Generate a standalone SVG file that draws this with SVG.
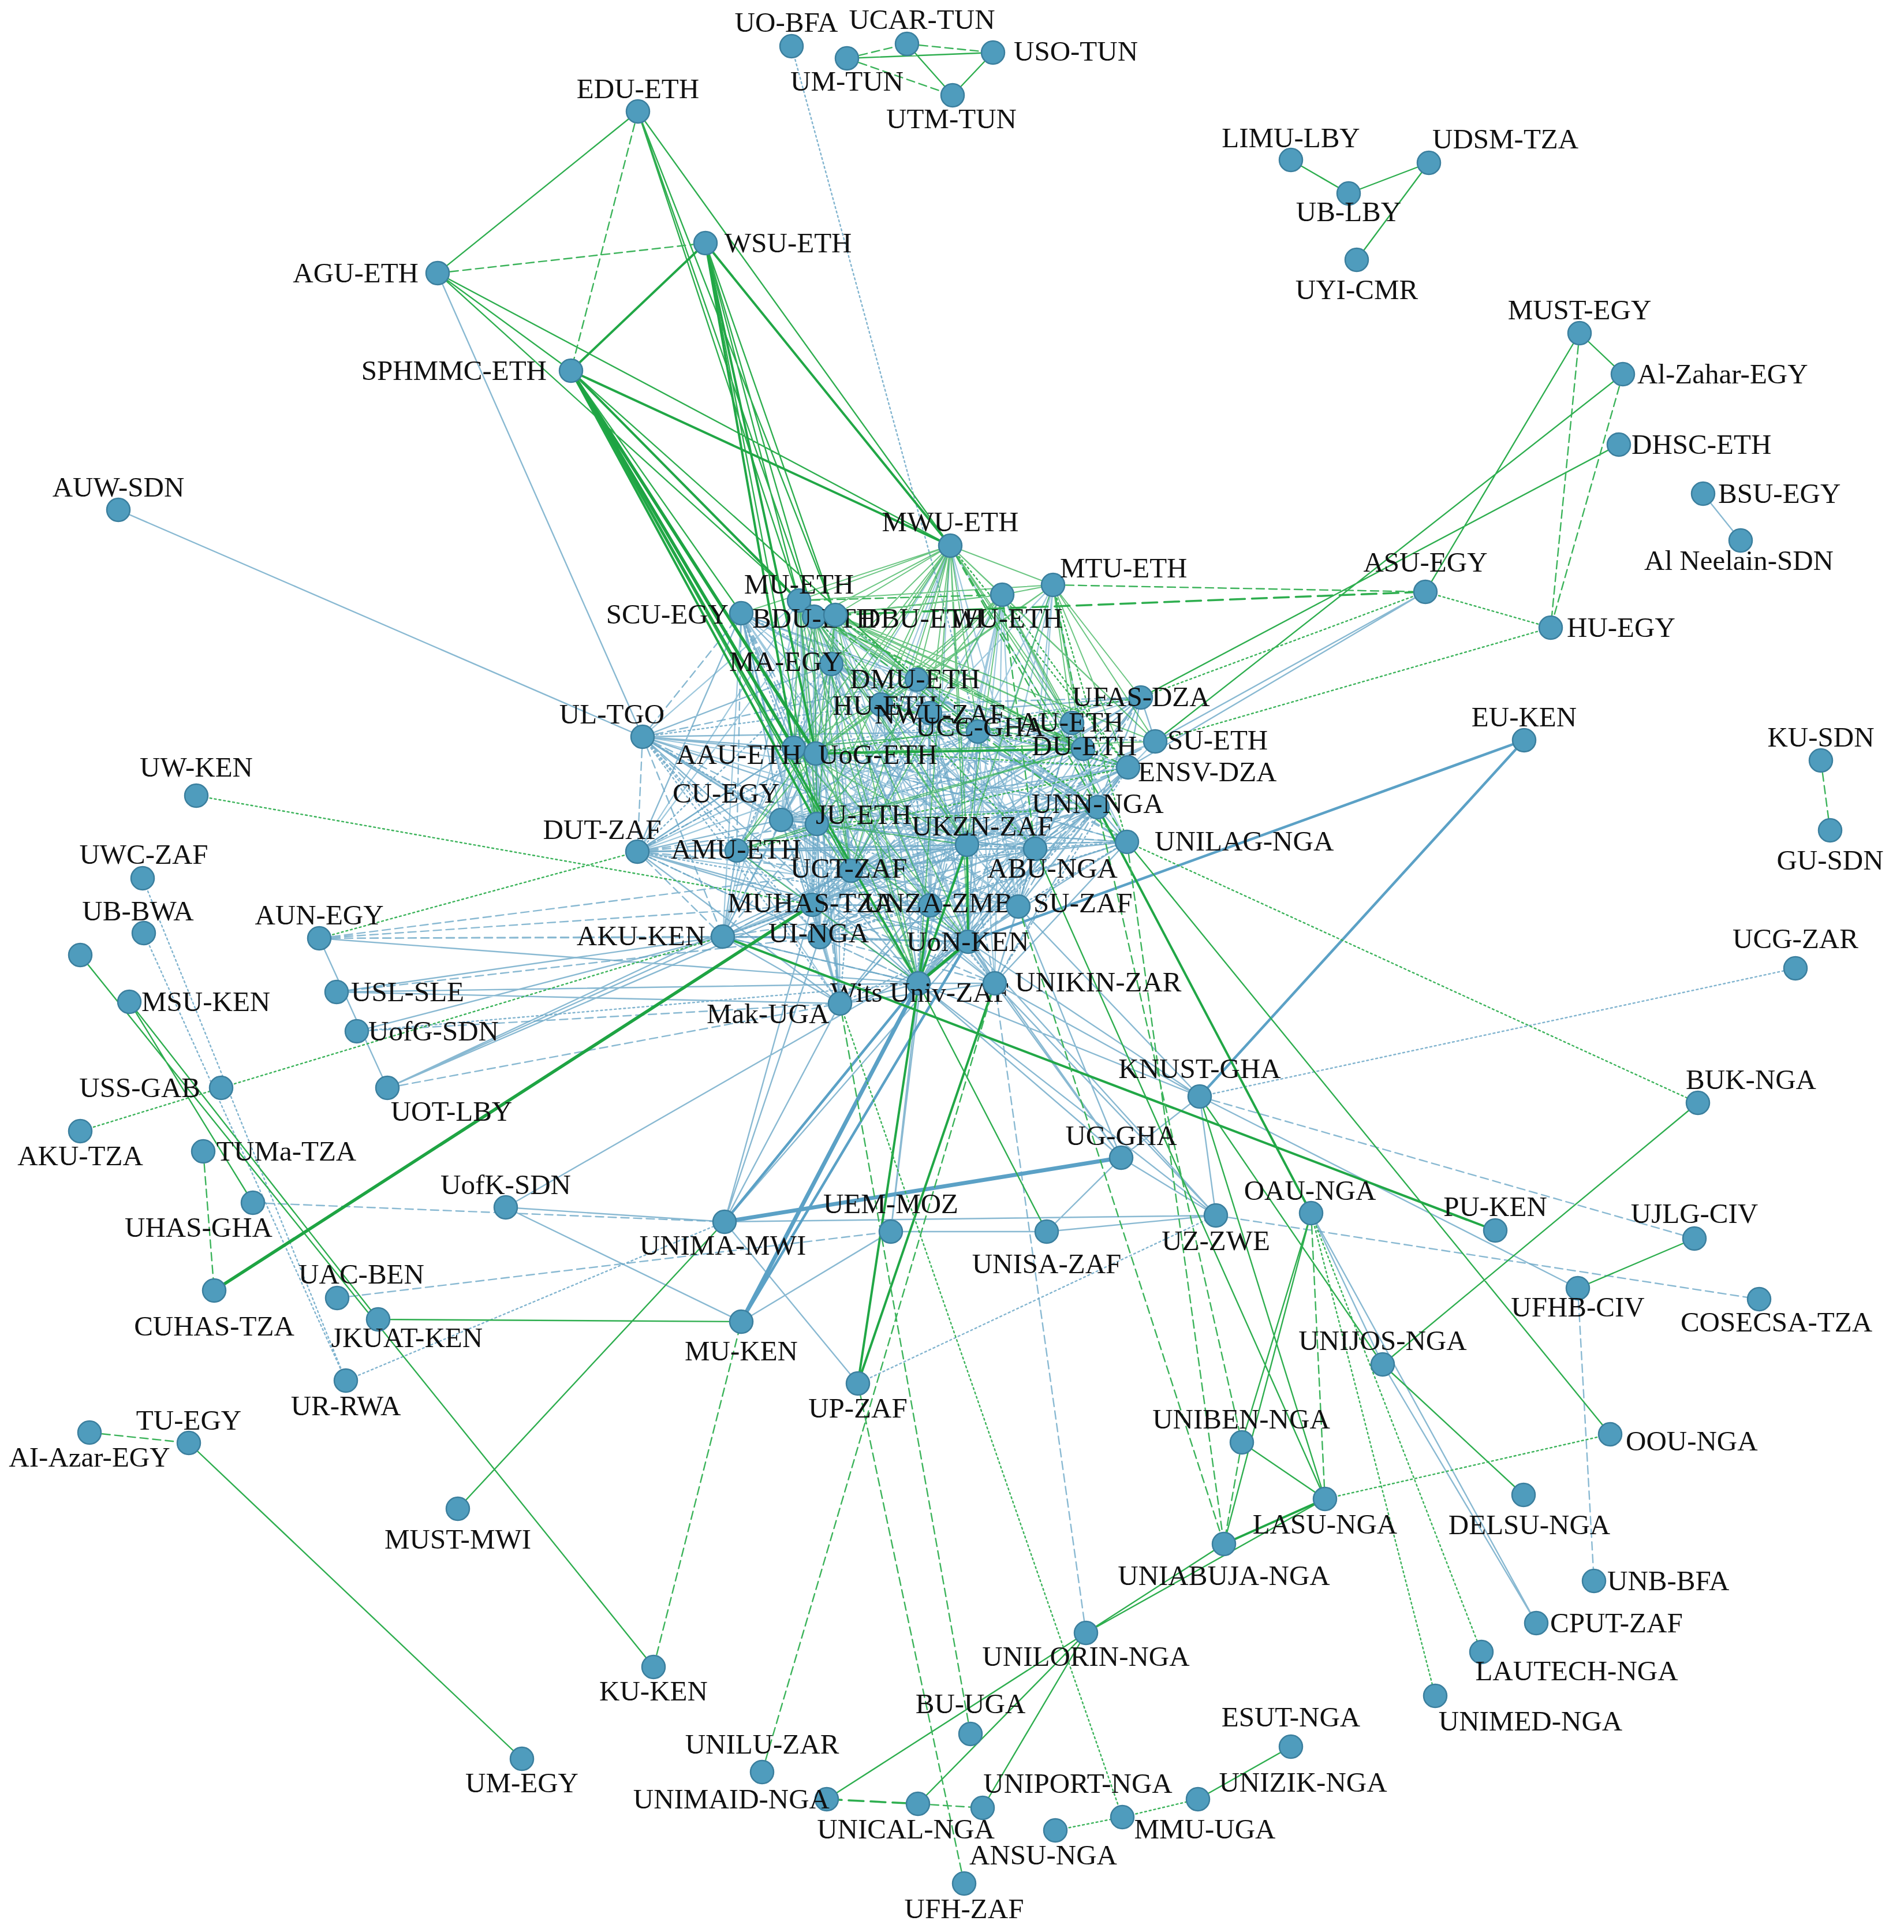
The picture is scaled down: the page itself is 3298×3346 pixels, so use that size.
<svg xmlns="http://www.w3.org/2000/svg" width="3298" height="3346" viewBox="0 0 3298 3346">
<style>
.e path{fill:none;stroke-linecap:round}
.b{stroke:#6ba7c7;stroke-width:2.4;stroke-opacity:.8}
.bl{stroke:#7db5d2;stroke-width:2.2;stroke-opacity:.75}
.bd{stroke:#6ba7c7;stroke-width:2.4;stroke-opacity:.8;stroke-dasharray:14 8}
.bo{stroke:#6ba7c7;stroke-width:2.4;stroke-opacity:.85;stroke-dasharray:3 5}
.bm{stroke:#5ba1c6;stroke-width:4.5}
.bt{stroke:#5ba1c6;stroke-width:7}
.g{stroke:#2eae4f;stroke-width:2.4}
.gc{stroke:#2eae4f;stroke-width:2;stroke-opacity:.7}
.gm{stroke:#21a746;stroke-width:4}
.gt{stroke:#1ea443;stroke-width:5.5}
.gd{stroke:#3bb35a;stroke-width:2.4;stroke-dasharray:14 8}
.gdt{stroke:#2eae4f;stroke-width:3.5;stroke-dasharray:26 12}
.go{stroke:#3bb35a;stroke-width:2.4;stroke-dasharray:3 5}
.n{fill:#4f9cbd;stroke:#3b7f9e;stroke-width:2.5}
text{font-family:"Liberation Serif","Times New Roman",serif;font-size:49px;fill:#111}
.m{text-anchor:middle}.s{text-anchor:start}.r{text-anchor:end}
</style>
<rect width="3298" height="3346" fill="#fff"/>
<g id="connectors" class="e">
<path class="bl" d="M1384 1040L1353 1420M1384 1040L1407 1567M1384 1040L1420 1623M1384 1040L1252 1622M1384 1040L1455 1738M1384 1040L1901 1398M1384 1040L1793 1470M1384 1040L1104 1475M1384 1040L1113 1276M1410 1068L1353 1420M1410 1068L1407 1567M1410 1068L1420 1623M1410 1068L1252 1622M1410 1068L1455 1738M1410 1068L1901 1398M1410 1068L1611 1568M1410 1068L1764 1570M1410 1068L1723 1703M1410 1068L1104 1475M1447 1065L1353 1420M1447 1065L1474 1508M1447 1065L1407 1567M1447 1065L1420 1623M1447 1065L1677 1631M1447 1065L1611 1568M1447 1065L1793 1470M1447 1065L1952 1458M1447 1065L1455 1738M1736 1030L1591 1703M1736 1030L1677 1631M1736 1030L1611 1568M1736 1030L1764 1570M1736 1030L1901 1398M1736 1030L1952 1458M1736 1030L1723 1703M1736 1030L1407 1567M1736 1030L1420 1623M1736 1030L1694 1267M1824 1013L1591 1703M1824 1013L1677 1631M1824 1013L1901 1398M1824 1013L1793 1470M1824 1013L1764 1570M1824 1013L1694 1267M1824 1013L1611 1235M1646 945L1793 1470M1646 945L1764 1570M1646 945L1611 1568M1646 945L1407 1567M1646 945L1420 1623M1646 945L1353 1420M1646 945L1952 1458M1284 1062L1793 1470M1284 1062L1677 1631M1284 1062L1611 1568M1284 1062L1252 1622M1284 1062L1455 1738M1284 1062L1954 1329M1284 1062L1876 1297M1375 1295L1420 1623M1375 1295L1407 1567M1375 1295L1252 1622M1375 1295L1677 1631M1375 1295L1793 1470M1375 1295L1764 1570M1375 1295L1952 1458M1375 1295L1694 1267M1375 1295L1104 1475M1375 1295L1276 1473M1413 1305L1474 1508M1413 1305L1675 1463M1413 1305L1611 1568M1413 1305L1764 1570M1413 1305L1901 1398M1413 1305L1793 1470M1413 1305L1723 1703M1413 1305L1694 1267M1413 1305L1353 1420M1415 1427L1474 1508M1415 1427L1611 1568M1415 1427L1764 1570M1415 1427L1723 1703M1415 1427L1952 1458M1415 1427L1954 1329M1415 1427L1694 1267M1415 1427L1857 1252M1276 1473L1474 1508M1276 1473L1407 1567M1276 1473L1420 1623M1276 1473L1675 1463M1276 1473L1677 1631M1276 1473L1793 1470M1276 1473L1455 1738M1276 1473L1375 1295M1526 1220L1474 1508M1526 1220L1677 1631M1526 1220L1611 1568M1526 1220L1793 1470M1526 1220L1420 1623M1588 1177L1474 1508M1588 1177L1611 1568M1588 1177L1793 1470M1588 1177L1677 1631M1611 1235L1677 1631M1611 1235L1764 1570M1611 1235L1793 1470M1694 1267L1677 1631M1694 1267L1764 1570M1694 1267L1723 1703M1857 1252L1677 1631M1857 1252L1793 1470M1857 1252L1474 1508M1857 1252L1420 1623M1876 1297L1591 1703M1876 1297L1764 1570M1876 1297L1474 1508M1876 1297L1353 1420M2001 1284L1591 1703M2001 1284L1474 1508M2001 1284L1407 1567M1954 1329L1677 1631M1954 1329L1407 1567M1954 1329L1252 1622M1976 1208L1407 1567M1976 1208L1677 1631M1976 1208L1353 1420M1113 1276L1901 1398M1113 1276L1793 1470M1113 1276L1677 1631M1104 1475L1764 1570M1104 1475L1952 1458M1104 1475L1694 1267M1104 1475L1611 1235"/>
<path class="b" d="M1113 1276L1375 1295M1113 1276L1413 1305M1113 1276L1353 1420M1113 1276L1440 1150M1113 1276L1474 1508M1113 1276L1675 1463M1113 1276L1591 1703M1113 1276L1694 1267M1104 1475L1375 1295M1104 1475L1353 1420M1104 1475L1276 1473M1104 1475L1407 1567M1104 1475L1675 1463M1104 1475L1677 1631M1104 1475L1455 1738M1104 1475L1793 1470M1104 1475L1284 1062M1284 1062L1375 1295M1284 1062L1353 1420M1284 1062L1440 1150M1284 1062L1675 1463M1284 1062L1588 1177M1284 1062L1901 1398M1284 1062L1407 1567M1440 1150L1375 1295M1440 1150L1353 1420M1440 1150L1474 1508M1440 1150L1694 1267M1440 1150L1793 1470M1440 1150L1876 1297M1440 1150L1611 1568M1353 1420L1415 1427M1353 1420L1474 1508M1353 1420L1420 1623M1353 1420L1591 1703M1353 1420L1901 1398M1353 1420L1793 1470M1353 1420L1611 1568M1353 1420L1611 1235M1353 1420L1954 1329M1474 1508L1675 1463M1474 1508L1677 1631M1474 1508L1764 1570M1474 1508L1952 1458M1474 1508L1252 1622M1474 1508L1407 1567M1474 1508L1611 1235M1474 1508L1976 1208M1474 1508L1723 1703M1407 1567L1675 1463M1407 1567L1591 1703M1407 1567L1611 1568M1407 1567L1793 1470M1407 1567L1420 1623M1407 1567L1455 1738M1407 1567L1694 1267M1407 1567L1857 1252M1420 1623L1675 1463M1420 1623L1677 1631M1420 1623L1764 1570M1420 1623L1901 1398M1420 1623L1455 1738M1420 1623L1252 1622M1420 1623L1611 1235M1420 1623L1413 1305M1675 1463L1677 1631M1675 1463L1764 1570M1675 1463L1901 1398M1675 1463L1954 1329M1675 1463L1976 1208M1675 1463L1611 1235M1675 1463L1588 1177M1675 1463L1455 1738M1675 1463L1252 1622M1611 1568L1677 1631M1611 1568L1793 1470M1611 1568L1952 1458M1611 1568L1455 1738M1611 1568L1611 1235M1764 1570L1591 1703M1764 1570L1723 1703M1764 1570L1901 1398M1764 1570L1954 1329M1677 1631L1723 1703M1677 1631L1793 1470M1677 1631L1952 1458M1677 1631L1252 1622M1677 1631L1694 1267M1591 1703L1723 1703M1591 1703L1793 1470M1591 1703L1455 1738M1591 1703L1252 1622M1591 1703L1611 1235M1591 1703L1526 1220M1591 1703L1976 1208M1723 1703L1793 1470M1723 1703L1952 1458M1793 1470L1901 1398M1793 1470L1954 1329M1793 1470L1694 1267M1793 1470L1857 1252M1901 1398L1952 1458M1901 1398L1976 1208M1901 1398L1611 1235M1694 1267L1611 1235M1694 1267L1954 1329M1694 1267L1588 1177M1611 1235L1976 1208M1611 1235L1526 1220M1976 1208L1954 1329M1976 1208L2001 1284M1252 1622L1413 1305M1252 1622L1276 1473M1252 1622L1455 1738M1252 1622L1407 1567M1252 1622L1675 1463M1455 1738L1413 1305M1455 1738L1675 1463M1455 1738L1723 1703"/>
<path class="bd" d="M1113 1276L1415 1427M1113 1276L1284 1062M1113 1276L1407 1567M1113 1276L1104 1475M1113 1276L1588 1177M1113 1276L1252 1622M1104 1475L1413 1305M1104 1475L1415 1427M1104 1475L1474 1508M1104 1475L1591 1703M1104 1475L1252 1622M1104 1475L1901 1398M1284 1062L1413 1305M1284 1062L1474 1508M1284 1062L1591 1703M1284 1062L1276 1473M1440 1150L1413 1305M1440 1150L1675 1463M1440 1150L1901 1398M1440 1150L1952 1458M1353 1420L1276 1473M1353 1420L1675 1463M1353 1420L1952 1458M1353 1420L1694 1267M1474 1508L1591 1703M1474 1508L1901 1398M1474 1508L1420 1623M1474 1508L1954 1329M1407 1567L1677 1631M1407 1567L1901 1398M1407 1567L1723 1703M1407 1567L1588 1177M1420 1623L1591 1703M1420 1623L1793 1470M1420 1623L1723 1703M1420 1623L1694 1267M1675 1463L1952 1458M1675 1463L2001 1284M1675 1463L1694 1267M1675 1463L1723 1703M1611 1568L1764 1570M1611 1568L1901 1398M1611 1568L1694 1267M1764 1570L1677 1631M1764 1570L1793 1470M1764 1570L1976 1208M1591 1703L1901 1398M1591 1703L1694 1267M1591 1703L1857 1252M1591 1703L1954 1329M1723 1703L1901 1398M1793 1470L1976 1208M1793 1470L1611 1235M1901 1398L1954 1329M1901 1398L1694 1267M1694 1267L1976 1208M1694 1267L1526 1220M1694 1267L1857 1252M1611 1235L1954 1329M1611 1235L1588 1177M1976 1208L1526 1220M1252 1622L1415 1427M1252 1622L1353 1420M1252 1622L1474 1508M1252 1622L1591 1703M1252 1622L1611 1568M1455 1738L1415 1427M1455 1738L1611 1568M1375 1295L1901 1398M1413 1305L1952 1458M1415 1427L1793 1470M1526 1220L1952 1458M1588 1177L1901 1398M553 1625L1252 1622M553 1625L1407 1567M553 1625L1420 1623M553 1625L1474 1508M583 1718L1420 1623M618 1786L1455 1738M671 1884L1455 1738M438 2083L1255 2116M584 2248L1543 2133M2078 1899L2935 2145M2106 2105L3047 2250M2733 2231L2761 2738M1881 2828L1723 1703"/>
<path class="bo" d="M1113 1276L1276 1473M1113 1276L1420 1623M1113 1276L1611 1568M1113 1276L1526 1220M1113 1276L1455 1738M1104 1475L1413 1305M1104 1475L1420 1623M1104 1475L1611 1568M1104 1475L1440 1150M1284 1062L1415 1427M1284 1062L1694 1267M1284 1062L1420 1623M1440 1150L1415 1427M1440 1150L1591 1703M1440 1150L1276 1473M1353 1420L1407 1567M1353 1420L1764 1570M1353 1420L1876 1297M1474 1508L1415 1427M1474 1508L1793 1470M1474 1508L1694 1267M1474 1508L1455 1738M1407 1567L1413 1305M1407 1567L1415 1427M1407 1567L1764 1570M1407 1567L1252 1622M1407 1567L1611 1235M1420 1623L1611 1568M1420 1623L1952 1458M1675 1463L1793 1470M1675 1463L1526 1220M1611 1568L1723 1703M1764 1570L1952 1458M1764 1570L1857 1252M1677 1631L1901 1398M1677 1631L1455 1738M1677 1631L1611 1235M1591 1703L1677 1631M1591 1703L1588 1177M1723 1703L1954 1329M1793 1470L1952 1458M1901 1398L1857 1252M1694 1267L2001 1284M1611 1235L1857 1252M1252 1622L1420 1623M1252 1622L1677 1631M1413 1305L1954 1329M1375 1295L1976 1208M1371 80L1694 1267M618 1786L1591 1703M247 1521L599 2391M249 1616L599 2391M599 2391L1255 2116M1486 2396L2106 2105M2078 1899L3110 1677"/>
<path class="b" d="M205 883L1113 1276M758 473L1113 1276M553 1625L1591 1703M553 1625L671 1884M583 1718L1252 1622M583 1718L1455 1738M583 1718L1591 1703M618 1786L1252 1622M671 1884L1252 1622M671 1884L1407 1567M671 1884L1474 1508M876 2091L1255 2116M876 2091L1284 2289M876 2091L1677 1631M1255 2116L1677 1631M1255 2116L1455 1738M1255 2116L1420 1623M1255 2116L1407 1567M1255 2116L2106 2105M1255 2116L1486 2396M1543 2133L1813 2133M1543 2133L1591 1703M1543 2133L1611 1568M1284 2289L1543 2133M1813 2133L1942 2005M1942 2005L2078 1899M1942 2005L2106 2105M1942 2005L1591 1703M1942 2005L1677 1631M1942 2005L1723 1703M1942 2005L1764 1570M2078 1899L2106 2105M2078 1899L1591 1703M2078 1899L1677 1631M2078 1899L1723 1703M2078 1899L1764 1570M2078 1899L2733 2231M2106 2105L1591 1703M2106 2105L1723 1703M2106 2105L1677 1631M2106 2105L1813 2133M2271 2101L2395 2363M2271 2101L2661 2811M2395 2363L2661 2811M2469 1025L2001 1284M2469 1025L1954 1329M2950 855L3015 936"/>
<path class="bm" d="M1255 2116L1591 1703M1284 2289L1677 1631M2640 1282L1677 1631M2640 1282L2078 1899"/>
<path class="bt" d="M1284 2289L1591 1703M1255 2116L1942 2005"/>
<path class="gc" d="M1646 945L1384 1040M1646 945L1284 1062M1646 945L1410 1068M1646 945L1447 1065M1646 945L1440 1150M1646 945L1588 1177M1646 945L1526 1220M1646 945L1611 1235M1646 945L1694 1267M1646 945L1375 1295M1646 945L1413 1305M1646 945L1415 1427M1646 945L1276 1473M1646 945L1675 1463M1646 945L1474 1508M1646 945L1591 1703M1646 945L1677 1631M1646 945L1824 1013M1646 945L1736 1030M1646 945L1876 1297M1646 945L1857 1252M1646 945L2001 1284M1384 1040L1824 1013M1384 1040L1588 1177M1384 1040L1375 1295M1384 1040L1413 1305M1384 1040L1415 1427M1384 1040L1675 1463M1384 1040L1591 1703M1384 1040L1474 1508M1384 1040L1611 1568M1384 1040L1857 1252M1384 1040L1876 1297M1384 1040L2001 1284M1410 1068L1736 1030M1410 1068L1588 1177M1410 1068L1526 1220M1410 1068L1375 1295M1410 1068L1413 1305M1410 1068L1415 1427M1410 1068L1474 1508M1410 1068L1591 1703M1410 1068L1675 1463M1410 1068L1876 1297M1410 1068L1677 1631M1447 1065L1736 1030M1447 1065L1694 1267M1447 1065L1857 1252M1447 1065L1876 1297M1447 1065L1413 1305M1447 1065L1415 1427M1447 1065L1591 1703M1447 1065L1675 1463M1736 1030L1824 1013M1736 1030L1857 1252M1736 1030L1876 1297M1736 1030L2001 1284M1736 1030L1413 1305M1736 1030L1415 1427M1736 1030L1526 1220M1736 1030L1588 1177M1736 1030L1675 1463M1736 1030L1474 1508M1824 1013L1857 1252M1824 1013L1876 1297M1824 1013L2001 1284M1824 1013L1976 1208M1824 1013L1954 1329M1824 1013L1413 1305M1824 1013L1588 1177M1824 1013L1675 1463M1375 1295L1857 1252M1413 1305L2001 1284M1375 1295L1675 1463M1413 1305L1591 1703M1375 1295L1474 1508M1413 1305L1677 1631M1375 1295L1611 1568M1375 1295L1415 1427M1413 1305L1526 1220M1415 1427L1591 1703M1415 1427L1675 1463M1415 1427L1677 1631M1415 1427L1276 1473M1415 1427L1876 1297M1276 1473L1413 1305M1276 1473L1876 1297M1276 1473L1591 1703M1526 1220L1876 1297M1588 1177L1413 1305M1588 1177L1375 1295M1588 1177L1876 1297"/>
<path class="g" d="M1105 193L758 473M1105 193L1646 945M1105 193L1384 1040M1105 193L1410 1068M1105 193L1447 1065M758 473L989 642M758 473L1646 945M758 473L1384 1040M1222 421L1415 1427M1222 421L1410 1068M1222 421L1447 1065M1222 421L1384 1040M989 642L1384 1040M989 642L1474 1508M989 642L1588 1177M989 642L1284 1062M1467 101L1720 91M1571 76L1650 165M1720 91L1650 165M2236 277L2336 335M2336 335L2475 282M2350 450L2475 282M2736 577L2811 648M2736 577L2469 1025M2811 648L2001 1284M2804 770L1976 1208M655 2285L1284 2289M139 1654L1132 2887M224 1735L438 2083M224 1735L655 2285M793 2613L1255 2116M327 2499L904 3046M1813 2133L1591 1703M2078 1899L2295 2596M2078 1899L2395 2363M1793 1470L2295 2596M1952 1458L2789 2484M2941 1910L2395 2363M2271 2101L2151 2498M2271 2101L2120 2674M2395 2363L2639 2589M2733 2231L2935 2145M2151 2498L2295 2596M2295 2596L1881 2828M2120 2674L1881 2828M1881 2828L1432 3116M1881 2828L1590 3124M1881 2828L1702 3131M2075 3116L2236 3025"/>
<path class="gm" d="M989 642L1646 945M989 642L1410 1068M989 642L1415 1427M989 642L1591 1703M1222 421L1646 945M1222 421L989 642M1222 421L1375 1295M1222 421L1413 1305M1591 1703L1675 1463M1591 1703L1611 1568M1677 1631L1675 1463M1486 2396L1591 1703M1486 2396L1723 1703M2271 2101L1901 1398M1413 1305L1876 1297M1252 1622L2590 2131M2295 2596L2120 2674"/>
<path class="gt" d="M989 642L1375 1295M989 642L1413 1305M1591 1703L1677 1631M371 2235L1407 1567"/>
<path class="gd" d="M758 473L1222 421M1105 193L989 642M1467 101L1571 76M1571 76L1720 91M1467 101L1650 165M1384 1040L1736 1030M2736 577L2686 1087M2811 648L2686 1087M3154 1317L3170 1438M352 1994L371 2235M155 2481L327 2499M1132 2887L1284 2289M1670 3262L1486 2396M2271 2101L2295 2596M2151 2498L2120 2674M1952 1458L2120 2674M1901 1398L2151 2498M1764 1570L2120 2674M1320 3069L1723 1703M1681 3003L1455 1738M1590 3124L1702 3131M1824 1013L2469 1025M1646 945L1952 1458M1646 945L1901 1398M1824 1013L1901 1398M1736 1030L1793 1470M1384 1040L1952 1458M1410 1068L1954 1329"/>
<path class="gdt" d="M1447 1065L2469 1025M1432 3116L1590 3124"/>
<path class="go" d="M340 1378L1407 1567M553 1625L1104 1475M383 1884L1252 1622M139 1959L383 1884M2469 1025L2686 1087M2469 1025L1976 1208M2686 1087L2001 1284M1952 1458L2941 1910M2271 2101L2566 2861M2271 2101L2486 2937M2295 2596L2789 2484M1944 3147L1455 1738M1828 3170L1944 3147M1944 3147L2075 3116M1646 945L1954 1329M1824 1013L1952 1458M1736 1030L1954 1329M1447 1065L1901 1398M1410 1068L1793 1470M1375 1295L1954 1329M1413 1305L1976 1208M1415 1427L1901 1398M1276 1473L1954 1329M1526 1220L1954 1329"/>
</g>
<g id="nodes">
<g id="n-UO-BFA"><circle class="n" cx="1371" cy="80" r="20"/><text class="m" x="1362" y="55">UO-BFA</text></g>
<g id="n-UCAR-TUN"><circle class="n" cx="1571" cy="76" r="20"/><text class="m" x="1597" y="50">UCAR-TUN</text></g>
<g id="n-UM-TUN"><circle class="n" cx="1467" cy="101" r="20"/><text class="m" x="1467" y="157">UM-TUN</text></g>
<g id="n-USO-TUN"><circle class="n" cx="1720" cy="91" r="20"/><text class="s" x="1756" y="105">USO-TUN</text></g>
<g id="n-UTM-TUN"><circle class="n" cx="1650" cy="165" r="20"/><text class="m" x="1648" y="222">UTM-TUN</text></g>
<g id="n-EDU-ETH"><circle class="n" cx="1105" cy="193" r="20"/><text class="m" x="1105" y="170">EDU-ETH</text></g>
<g id="n-WSU-ETH"><circle class="n" cx="1222" cy="421" r="20"/><text class="s" x="1255" y="437">WSU-ETH</text></g>
<g id="n-AGU-ETH"><circle class="n" cx="758" cy="473" r="20"/><text class="r" x="725" y="489">AGU-ETH</text></g>
<g id="n-SPHMMC-ETH"><circle class="n" cx="989" cy="642" r="20"/><text class="r" x="947" y="658">SPHMMC-ETH</text></g>
<g id="n-AUW-SDN"><circle class="n" cx="205" cy="883" r="20"/><text class="m" x="205" y="860">AUW-SDN</text></g>
<g id="n-LIMU-LBY"><circle class="n" cx="2236" cy="277" r="20"/><text class="m" x="2236" y="255">LIMU-LBY</text></g>
<g id="n-UB-LBY"><circle class="n" cx="2336" cy="335" r="20"/><text class="m" x="2336" y="383">UB-LBY</text></g>
<g id="n-UDSM-TZA"><circle class="n" cx="2475" cy="282" r="20"/><text class="s" x="2481" y="257">UDSM-TZA</text></g>
<g id="n-UYI-CMR"><circle class="n" cx="2350" cy="450" r="20"/><text class="m" x="2350" y="518">UYI-CMR</text></g>
<g id="n-MUST-EGY"><circle class="n" cx="2736" cy="577" r="20"/><text class="m" x="2736" y="553">MUST-EGY</text></g>
<g id="n-Al-Zahar-EGY"><circle class="n" cx="2811" cy="648" r="20"/><text class="s" x="2836" y="664">Al-Zahar-EGY</text></g>
<g id="n-DHSC-ETH"><circle class="n" cx="2804" cy="770" r="20"/><text class="s" x="2826" y="786">DHSC-ETH</text></g>
<g id="n-BSU-EGY"><circle class="n" cx="2950" cy="855" r="20"/><text class="s" x="2976" y="871">BSU-EGY</text></g>
<g id="n-Al-Neelain-SDN"><circle class="n" cx="3015" cy="936" r="20"/><text class="m" x="3012" y="987">Al Neelain-SDN</text></g>
<g id="n-ASU-EGY"><circle class="n" cx="2469" cy="1025" r="20"/><text class="m" x="2469" y="990">ASU-EGY</text></g>
<g id="n-HU-EGY"><circle class="n" cx="2686" cy="1087" r="20"/><text class="s" x="2714" y="1103">HU-EGY</text></g>
<g id="n-EU-KEN"><circle class="n" cx="2640" cy="1282" r="20"/><text class="m" x="2640" y="1258">EU-KEN</text></g>
<g id="n-KU-SDN"><circle class="n" cx="3154" cy="1317" r="20"/><text class="m" x="3154" y="1293">KU-SDN</text></g>
<g id="n-GU-SDN"><circle class="n" cx="3170" cy="1438" r="20"/><text class="m" x="3170" y="1506">GU-SDN</text></g>
<g id="n-UCG-ZAR"><circle class="n" cx="3110" cy="1677" r="20"/><text class="m" x="3110" y="1642">UCG-ZAR</text></g>
<g id="n-BUK-NGA"><circle class="n" cx="2941" cy="1910" r="20"/><text class="m" x="3033" y="1886">BUK-NGA</text></g>
<g id="n-PU-KEN"><circle class="n" cx="2590" cy="2131" r="20"/><text class="m" x="2590" y="2106">PU-KEN</text></g>
<g id="n-UJLG-CIV"><circle class="n" cx="2935" cy="2145" r="20"/><text class="m" x="2935" y="2118">UJLG-CIV</text></g>
<g id="n-UFHB-CIV"><circle class="n" cx="2733" cy="2231" r="20"/><text class="m" x="2733" y="2280">UFHB-CIV</text></g>
<g id="n-COSECSA-TZA"><circle class="n" cx="3047" cy="2250" r="20"/><text class="m" x="3077" y="2306">COSECSA-TZA</text></g>
<g id="n-OOU-NGA"><circle class="n" cx="2789" cy="2484" r="20"/><text class="s" x="2816" y="2512">OOU-NGA</text></g>
<g id="n-DELSU-NGA"><circle class="n" cx="2639" cy="2589" r="20"/><text class="m" x="2649" y="2657">DELSU-NGA</text></g>
<g id="n-UNB-BFA"><circle class="n" cx="2761" cy="2738" r="20"/><text class="s" x="2784" y="2754">UNB-BFA</text></g>
<g id="n-CPUT-ZAF"><circle class="n" cx="2661" cy="2811" r="20"/><text class="s" x="2685" y="2827">CPUT-ZAF</text></g>
<g id="n-LAUTECH-NGA"><circle class="n" cx="2566" cy="2861" r="20"/><text class="m" x="2731" y="2910">LAUTECH-NGA</text></g>
<g id="n-UNIMED-NGA"><circle class="n" cx="2486" cy="2937" r="20"/><text class="m" x="2651" y="2997">UNIMED-NGA</text></g>
<g id="n-ESUT-NGA"><circle class="n" cx="2236" cy="3025" r="20"/><text class="m" x="2236" y="2990">ESUT-NGA</text></g>
<g id="n-UNIZIK-NGA"><circle class="n" cx="2075" cy="3116" r="20"/><text class="m" x="2257" y="3103">UNIZIK-NGA</text></g>
<g id="n-MMU-UGA"><circle class="n" cx="1944" cy="3147" r="20"/><text class="m" x="2087" y="3184">MMU-UGA</text></g>
<g id="n-ANSU-NGA"><circle class="n" cx="1828" cy="3170" r="20"/><text class="m" x="1807" y="3229">ANSU-NGA</text></g>
<g id="n-UNIPORT-NGA"><circle class="n" cx="1702" cy="3131" r="20"/><text class="m" x="1867" y="3105">UNIPORT-NGA</text></g>
<g id="n-UNICAL-NGA"><circle class="n" cx="1590" cy="3124" r="20"/><text class="m" x="1569" y="3184">UNICAL-NGA</text></g>
<g id="n-UNIMAID-NGA"><circle class="n" cx="1432" cy="3116" r="20"/><text class="r" x="1437" y="3132">UNIMAID-NGA</text></g>
<g id="n-UNILU-ZAR"><circle class="n" cx="1320" cy="3069" r="20"/><text class="m" x="1320" y="3037">UNILU-ZAR</text></g>
<g id="n-BU-UGA"><circle class="n" cx="1681" cy="3003" r="20"/><text class="m" x="1681" y="2967">BU-UGA</text></g>
<g id="n-UFH-ZAF"><circle class="n" cx="1670" cy="3262" r="20"/><text class="m" x="1670" y="3322">UFH-ZAF</text></g>
<g id="n-UNILORIN-NGA"><circle class="n" cx="1881" cy="2828" r="20"/><text class="m" x="1881" y="2885">UNILORIN-NGA</text></g>
<g id="n-UNIABUJA-NGA"><circle class="n" cx="2120" cy="2674" r="20"/><text class="m" x="2120" y="2745">UNIABUJA-NGA</text></g>
<g id="n-LASU-NGA"><circle class="n" cx="2295" cy="2596" r="20"/><text class="m" x="2295" y="2656">LASU-NGA</text></g>
<g id="n-UNIBEN-NGA"><circle class="n" cx="2151" cy="2498" r="20"/><text class="m" x="2150" y="2474">UNIBEN-NGA</text></g>
<g id="n-UNIJOS-NGA"><circle class="n" cx="2395" cy="2363" r="20"/><text class="m" x="2395" y="2338">UNIJOS-NGA</text></g>
<g id="n-OAU-NGA"><circle class="n" cx="2271" cy="2101" r="20"/><text class="m" x="2269" y="2078">OAU-NGA</text></g>
<g id="n-UZ-ZWE"><circle class="n" cx="2106" cy="2105" r="20"/><text class="m" x="2106" y="2165">UZ-ZWE</text></g>
<g id="n-UNISA-ZAF"><circle class="n" cx="1813" cy="2133" r="20"/><text class="m" x="1813" y="2205">UNISA-ZAF</text></g>
<g id="n-UG-GHA"><circle class="n" cx="1942" cy="2005" r="20"/><text class="m" x="1942" y="1983">UG-GHA</text></g>
<g id="n-KNUST-GHA"><circle class="n" cx="2078" cy="1899" r="20"/><text class="m" x="2078" y="1867">KNUST-GHA</text></g>
<g id="n-UEM-MOZ"><circle class="n" cx="1543" cy="2133" r="20"/><text class="m" x="1543" y="2101">UEM-MOZ</text></g>
<g id="n-UNIMA-MWI"><circle class="n" cx="1255" cy="2116" r="20"/><text class="m" x="1252" y="2173">UNIMA-MWI</text></g>
<g id="n-UofK-SDN"><circle class="n" cx="876" cy="2091" r="20"/><text class="m" x="876" y="2068">UofK-SDN</text></g>
<g id="n-MU-KEN"><circle class="n" cx="1284" cy="2289" r="20"/><text class="m" x="1284" y="2356">MU-KEN</text></g>
<g id="n-UP-ZAF"><circle class="n" cx="1486" cy="2396" r="20"/><text class="m" x="1486" y="2455">UP-ZAF</text></g>
<g id="n-UM-EGY"><circle class="n" cx="904" cy="3046" r="20"/><text class="m" x="904" y="3104">UM-EGY</text></g>
<g id="n-KU-KEN"><circle class="n" cx="1132" cy="2887" r="20"/><text class="m" x="1132" y="2945">KU-KEN</text></g>
<g id="n-MUST-MWI"><circle class="n" cx="793" cy="2613" r="20"/><text class="m" x="793" y="2682">MUST-MWI</text></g>
<g id="n-TU-EGY"><circle class="n" cx="327" cy="2499" r="20"/><text class="m" x="327" y="2476">TU-EGY</text></g>
<g id="n-AI-Azar-EGY"><circle class="n" cx="155" cy="2481" r="20"/><text class="m" x="155" y="2540">AI-Azar-EGY</text></g>
<g id="n-UR-RWA"><circle class="n" cx="599" cy="2391" r="20"/><text class="m" x="599" y="2451">UR-RWA</text></g>
<g id="n-JKUAT-KEN"><circle class="n" cx="655" cy="2285" r="20"/><text class="m" x="705" y="2333">JKUAT-KEN</text></g>
<g id="n-UAC-BEN"><circle class="n" cx="584" cy="2248" r="20"/><text class="m" x="626" y="2223">UAC-BEN</text></g>
<g id="n-CUHAS-TZA"><circle class="n" cx="371" cy="2235" r="20"/><text class="m" x="371" y="2313">CUHAS-TZA</text></g>
<g id="n-UHAS-GHA"><circle class="n" cx="438" cy="2083" r="20"/><text class="m" x="344" y="2142">UHAS-GHA</text></g>
<g id="n-TUMa-TZA"><circle class="n" cx="352" cy="1994" r="20"/><text class="s" x="375" y="2010">TUMa-TZA</text></g>
<g id="n-AKU-TZA"><circle class="n" cx="139" cy="1959" r="20"/><text class="m" x="139" y="2018">AKU-TZA</text></g>
<g id="n-USS-GAB"><circle class="n" cx="383" cy="1884" r="20"/><text class="r" x="347" y="1900">USS-GAB</text></g>
<g id="n-UOT-LBY"><circle class="n" cx="671" cy="1884" r="20"/><text class="m" x="782" y="1941">UOT-LBY</text></g>
<g id="n-UofG-SDN"><circle class="n" cx="618" cy="1786" r="20"/><text class="s" x="638" y="1802">UofG-SDN</text></g>
<g id="n-USL-SLE"><circle class="n" cx="583" cy="1718" r="20"/><text class="s" x="608" y="1734">USL-SLE</text></g>
<g id="n-AUN-EGY"><circle class="n" cx="553" cy="1625" r="20"/><text class="m" x="553" y="1601">AUN-EGY</text></g>
<g id="n-MSU-KEN"><circle class="n" cx="224" cy="1735" r="20"/><text class="s" x="245" y="1751">MSU-KEN</text></g>
<g id="n-UB-BWA"><circle class="n" cx="249" cy="1616" r="20"/><text class="m" x="239" y="1594">UB-BWA</text></g>
<g id="n-unlabeled"><circle class="n" cx="139" cy="1654" r="20"/></g>
<g id="n-UWC-ZAF"><circle class="n" cx="247" cy="1521" r="20"/><text class="m" x="249" y="1496">UWC-ZAF</text></g>
<g id="n-UW-KEN"><circle class="n" cx="340" cy="1378" r="20"/><text class="m" x="340" y="1345">UW-KEN</text></g>
<g id="n-MWU-ETH"><circle class="n" cx="1646" cy="945" r="20"/><text class="m" x="1646" y="920">MWU-ETH</text></g>
<g id="n-MTU-ETH"><circle class="n" cx="1824" cy="1013" r="20"/><text class="s" x="1836" y="1000">MTU-ETH</text></g>
<g id="n-WU-ETH"><circle class="n" cx="1736" cy="1030" r="20"/><text class="s" x="1648" y="1087">WU-ETH</text></g>
<g id="n-MU-ETH"><circle class="n" cx="1384" cy="1040" r="20"/><text class="m" x="1384" y="1028">MU-ETH</text></g>
<g id="n-SCU-EGY"><circle class="n" cx="1284" cy="1062" r="20"/><text class="r" x="1262" y="1080">SCU-EGY</text></g>
<g id="n-BDU-ETH"><circle class="n" cx="1410" cy="1068" r="20"/><text class="s" x="1303" y="1087">BDU-ETH</text></g>
<g id="n-DBU-ETH"><circle class="n" cx="1447" cy="1065" r="20"/><text class="s" x="1490" y="1087">DBU-ETH</text></g>
<g id="n-MA-EGY"><circle class="n" cx="1440" cy="1150" r="20"/><text class="s" x="1263" y="1162">MA-EGY</text></g>
<g id="n-DMU-ETH"><circle class="n" cx="1588" cy="1177" r="20"/><text class="s" x="1472" y="1192">DMU-ETH</text></g>
<g id="n-HU-ETH"><circle class="n" cx="1526" cy="1220" r="20"/><text class="s" x="1442" y="1238">HU-ETH</text></g>
<g id="n-NWU-ZAF"><circle class="n" cx="1611" cy="1235" r="20"/><text class="s" x="1515" y="1253">NWU-ZAF</text></g>
<g id="n-UCC-GHA"><circle class="n" cx="1694" cy="1267" r="20"/><text class="s" x="1586" y="1275">UCC-GHA</text></g>
<g id="n-AU-ETH"><circle class="n" cx="1857" cy="1252" r="20"/><text class="s" x="1764" y="1267">AU-ETH</text></g>
<g id="n-UFAS-DZA"><circle class="n" cx="1976" cy="1208" r="20"/><text class="s" x="1857" y="1223">UFAS-DZA</text></g>
<g id="n-SU-ETH"><circle class="n" cx="2001" cy="1284" r="20"/><text class="s" x="2022" y="1298">SU-ETH</text></g>
<g id="n-DU-ETH"><circle class="n" cx="1876" cy="1297" r="20"/><text class="s" x="1787" y="1308">DU-ETH</text></g>
<g id="n-ENSV-DZA"><circle class="n" cx="1954" cy="1329" r="20"/><text class="s" x="1971" y="1353">ENSV-DZA</text></g>
<g id="n-UL-TGO"><circle class="n" cx="1113" cy="1276" r="20"/><text class="m" x="1060" y="1253">UL-TGO</text></g>
<g id="n-AAU-ETH"><circle class="n" cx="1375" cy="1295" r="20"/><text class="s" x="1171" y="1323">AAU-ETH</text></g>
<g id="n-UoG-ETH"><circle class="n" cx="1413" cy="1305" r="20"/><text class="s" x="1417" y="1323">UoG-ETH</text></g>
<g id="n-CU-EGY"><circle class="n" cx="1353" cy="1420" r="20"/><text class="s" x="1165" y="1390">CU-EGY</text></g>
<g id="n-JU-ETH"><circle class="n" cx="1415" cy="1427" r="20"/><text class="s" x="1413" y="1427">JU-ETH</text></g>
<g id="n-UKZN-ZAF"><circle class="n" cx="1675" cy="1463" r="20"/><text class="s" x="1579" y="1447">UKZN-ZAF</text></g>
<g id="n-UNN-NGA"><circle class="n" cx="1901" cy="1398" r="20"/><text class="s" x="1787" y="1408">UNN-NGA</text></g>
<g id="n-UNILAG-NGA"><circle class="n" cx="1952" cy="1458" r="20"/><text class="s" x="2000" y="1473">UNILAG-NGA</text></g>
<g id="n-ABU-NGA"><circle class="n" cx="1793" cy="1470" r="20"/><text class="s" x="1710" y="1520">ABU-NGA</text></g>
<g id="n-DUT-ZAF"><circle class="n" cx="1104" cy="1475" r="20"/><text class="m" x="1043" y="1453">DUT-ZAF</text></g>
<g id="n-AMU-ETH"><circle class="n" cx="1276" cy="1473" r="20"/><text class="s" x="1162" y="1487">AMU-ETH</text></g>
<g id="n-UCT-ZAF"><circle class="n" cx="1474" cy="1508" r="20"/><text class="s" x="1369" y="1520">UCT-ZAF</text></g>
<g id="n-MUHAS-TZA"><circle class="n" cx="1407" cy="1567" r="20"/><text class="s" x="1260" y="1580">MUHAS-TZA</text></g>
<g id="n-UNZA-ZMB"><circle class="n" cx="1611" cy="1568" r="20"/><text class="s" x="1496" y="1580">UNZA-ZMB</text></g>
<g id="n-SU-ZAF"><circle class="n" cx="1764" cy="1570" r="20"/><text class="s" x="1790" y="1580">SU-ZAF</text></g>
<g id="n-AKU-KEN"><circle class="n" cx="1252" cy="1622" r="20"/><text class="r" x="1222" y="1637">AKU-KEN</text></g>
<g id="n-UI-NGA"><circle class="n" cx="1420" cy="1623" r="20"/><text class="s" x="1331" y="1632">UI-NGA</text></g>
<g id="n-UoN-KEN"><circle class="n" cx="1677" cy="1631" r="20"/><text class="s" x="1570" y="1647">UoN-KEN</text></g>
<g id="n-Wits-Univ-ZAF"><circle class="n" cx="1591" cy="1703" r="20"/><text class="s" x="1438" y="1735">Wits Univ-ZAF</text></g>
<g id="n-UNIKIN-ZAR"><circle class="n" cx="1723" cy="1703" r="20"/><text class="s" x="1758" y="1717">UNIKIN-ZAR</text></g>
<g id="n-Mak-UGA"><circle class="n" cx="1455" cy="1738" r="20"/><text class="s" x="1224" y="1772">Mak-UGA</text></g>
</g>
</svg>
